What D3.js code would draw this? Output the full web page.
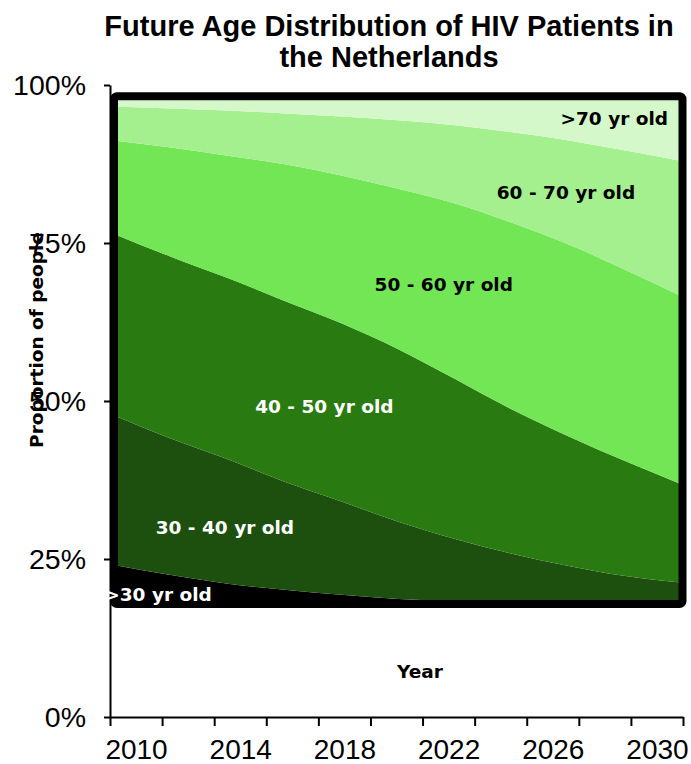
<!DOCTYPE html>
<html>
<head>
<meta charset="utf-8">
<script src="https://cdn.jsdelivr.net/npm/d3@7"></script>
<style>
  body { margin: 0; background: #fff; }
  svg text { font-family: "Liberation Sans", Arial, sans-serif; }
  .lbl { font-family: "DejaVu Sans", sans-serif; font-weight: bold; font-size: 18.5px; }
  .axis-title { font-family: "DejaVu Sans", sans-serif; font-weight: bold; font-size: 18.5px; }
</style>
</head>
<body>
<svg id="chart" width="691" height="764"></svg>
<script>
// years along the projection
const years = [2010, 2012, 2014, 2016, 2018, 2020, 2022, 2024, 2026, 2028, 2030];

// share of patients per age group (%)
const under30 = [7.7, 5.7, 4.0, 2.8, 1.8, 1.0, 0.6, 0.4, 0.4, 0.4, 0.4];
const age30to40 = [29.5, 26.9, 24.5, 21.3, 18.4, 15.2, 12.2, 9.5, 7.1, 5.1, 3.8];
const age40to50 = [35.7, 35.8, 35.7, 35.6, 35.1, 34.0, 31.5, 28.4, 25.5, 22.6, 19.3];
const age50to60 = [18.4, 21.5, 24.1, 26.9, 29.1, 31.6, 34.6, 36.8, 37.8, 37.7, 37.0];
const age60to70 = [6.7, 7.7, 8.9, 10.0, 11.6, 13.5, 15.4, 17.8, 20.5, 23.5, 26.7];
const over70 = [2.0, 2.4, 2.8, 3.4, 4.0, 4.7, 5.7, 7.1, 8.7, 10.7, 12.8];

const groups = [">30 yr old", "30 - 40 yr old", "40 - 50 yr old", "50 - 60 yr old", "60 - 70 yr old", ">70 yr old"];
const groupColors = ["#000000", "#1d4f0e", "#2a7a12", "#72e655", "#a4ef8e", "#d4f8c9"];
const labelColors = ["#fff", "#fff", "#fff", "#000", "#000", "#000"];
// where each group's label sits: [year, share]
const labelYears = [2011.55, 2013.9, 2017.4, 2021.6, 2025.9, 2027.6];
const labelShares = [0.5, 13.8, 37.6, 61.6, 79.8, 94.3];

const yTicks = [0, 25, 50, 75, 100];
const xTickYears = [2009, 2011, 2013, 2015, 2017, 2019, 2021, 2023, 2025, 2027, 2029, 2031];
const xLabelYears = [2010, 2014, 2018, 2022, 2026, 2030];

const svg = d3.select("#chart");

const table = years.map((yr, i) => ({
    year: yr,
    [groups[0]]: under30[i],
    [groups[1]]: age30to40[i],
    [groups[2]]: age40to50[i],
    [groups[3]]: age50to60[i],
    [groups[4]]: age60to70[i],
    [groups[5]]: over70[i]
}));

// outer axes
const yScale = d3.scaleLinear().domain([0, 100]).range([717, 85]);
const xScale = d3.scaleLinear().domain([2009, 2031]).range([110, 683]);

// inner panel where the stacked shares are drawn
const panel = { left: 114, right: 682.5, top: 96.3, bottom: 604 };
const xInner = d3.scaleLinear().domain([2010, 2030]).range([panel.left, panel.right]);
const yInner = d3.scaleLinear().domain([0, 100]).range([panel.bottom, panel.top]);

// y axis
const yAxis = svg.append("g")
    .attr("transform", "translate(110,0)")
    .call(d3.axisLeft(yScale).tickValues(yTicks).tickSize(6).tickSizeOuter(0).tickFormat(d => d + "%"));
yAxis.select(".domain").attr("stroke", "#000").attr("stroke-width", 2);
yAxis.selectAll(".tick line").attr("stroke", "#000").attr("stroke-width", 2);
yAxis.selectAll(".tick text").attr("font-size", 28.5).attr("font-family", "Liberation Sans, Arial, sans-serif")
    .attr("fill", "#000").attr("x", -24);

// x axis: ticks at band edges, labels at band centres
const xAxis = svg.append("g")
    .attr("transform", "translate(0,717)")
    .call(d3.axisBottom(xScale).tickValues(xTickYears).tickSize(9).tickSizeOuter(0).tickFormat(""));
xAxis.select(".domain").attr("stroke", "#000").attr("stroke-width", 2);
xAxis.selectAll(".tick line").attr("stroke", "#000").attr("stroke-width", 2);

const xLabels = svg.append("g")
    .attr("transform", "translate(0,717)")
    .call(d3.axisBottom(xScale).tickValues(xLabelYears).tickSize(0).tickFormat(d3.format("d")));
xLabels.select(".domain").remove();
xLabels.selectAll(".tick text").attr("font-size", 28).attr("font-family", "Liberation Sans, Arial, sans-serif")
    .attr("fill", "#000").attr("dy", "1.4em");

// stacked areas
const stack = d3.stack().keys(groups);
const series = stack(table);

const area = d3.area()
    .x(d => xInner(d.data.year))
    .y0(d => yInner(d[0]))
    .y1(d => yInner(d[1]))
    .curve(d3.curveMonotoneX);

svg.append("g").selectAll("path")
    .data(series)
    .join("path")
    .attr("d", area)
    .attr("fill", (d, i) => groupColors[i]);

// thick border round the panel
svg.append("rect")
    .attr("x", panel.left)
    .attr("y", panel.top)
    .attr("width", panel.right - panel.left)
    .attr("height", panel.bottom - panel.top)
    .attr("rx", 3)
    .attr("fill", "none")
    .attr("stroke", "#000")
    .attr("stroke-width", 8);

// area labels
svg.append("g").selectAll("text")
    .data(groups)
    .join("text")
    .attr("class", "lbl")
    .attr("x", (d, i) => xInner(labelYears[i]))
    .attr("y", (d, i) => yInner(labelShares[i]))
    .attr("text-anchor", "middle")
    .attr("fill", (d, i) => labelColors[i])
    .text(d => d);

// titles
svg.append("text")
    .attr("x", 389).attr("y", 36)
    .attr("text-anchor", "middle")
    .attr("font-size", 29).attr("font-weight", "bold")
    .text("Future Age Distribution of HIV Patients in");
svg.append("text")
    .attr("x", 389).attr("y", 67)
    .attr("text-anchor", "middle")
    .attr("font-size", 29).attr("font-weight", "bold")
    .text("the Netherlands");

svg.append("text")
    .attr("class", "axis-title")
    .attr("x", 420).attr("y", 678)
    .attr("text-anchor", "middle")
    .text("Year");

svg.append("text")
    .attr("class", "axis-title")
    .attr("transform", "translate(43,340) rotate(-90)")
    .attr("text-anchor", "middle")
    .text("Proportion of people");
</script>
</body>
</html>
